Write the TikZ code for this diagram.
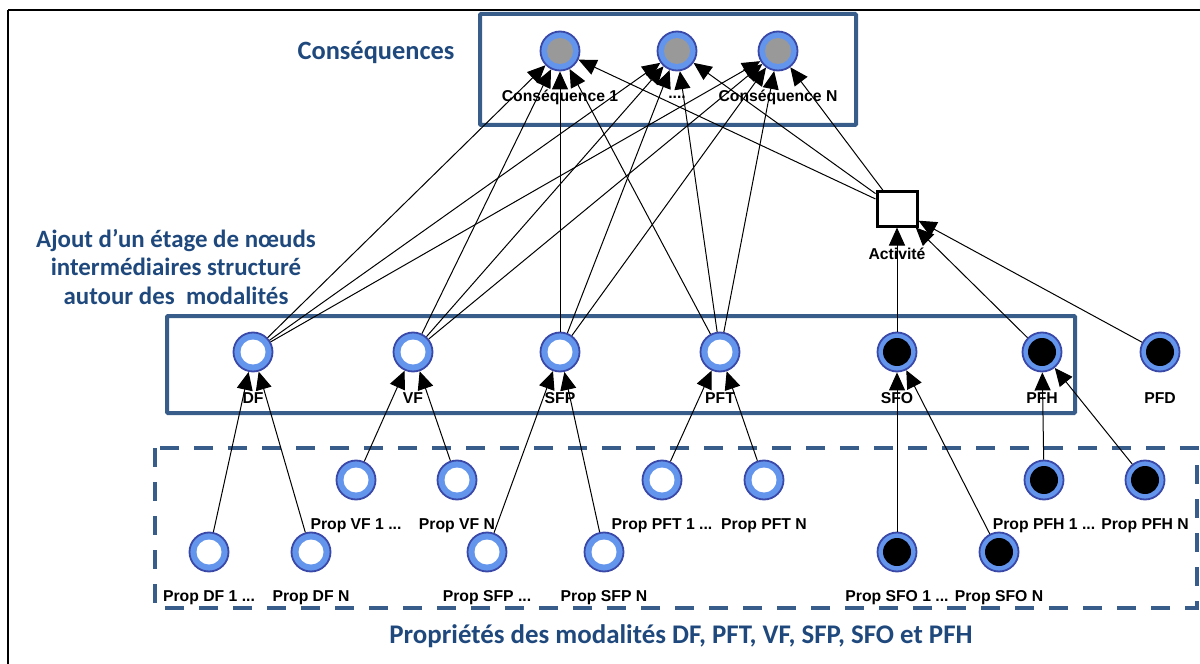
\documentclass[tikz,border=0pt]{standalone}
\usepackage{fontspec}
\setmainfont{Liberation Sans}
\newfontfamily\calfont{Carlito}
\usetikzlibrary{arrows.meta}
\definecolor{boxblue}{RGB}{56,93,138}
\definecolor{titleblue}{RGB}{31,73,125}
\definecolor{ringblue}{RGB}{100,149,237}
\definecolor{ringedge}{RGB}{58,72,168}
\definecolor{conseq}{RGB}{153,153,153}
\begin{document}
\begin{tikzpicture}[x=1bp,y=-1bp,
  ring/.style={circle, minimum size=39bp, inner sep=0pt, draw=ringedge, line width=1.8bp, fill=ringblue},
  wnode/.style={ring, path picture={\fill[white] (path picture bounding box.center) circle[radius=12.5bp];}},
  bnode/.style={ring, path picture={\fill[black] (path picture bounding box.center) circle[radius=14bp];}},
  gnode/.style={ring, path picture={\fill[conseq] (path picture bounding box.center) circle[radius=13bp];}},
  lab/.style={font=\bfseries\fontsize{15.8}{16}\selectfont, inner sep=0pt, anchor=center, label distance=25.5bp},
  actbox/.style={rectangle, draw=black, line width=3bp, fill=white, minimum width=40bp, minimum height=34bp, inner sep=0pt},
  arr/.style={-{Triangle[length=18bp,width=16bp]}, line width=1bp},
  bluebox/.style={draw=boxblue, line width=4bp, rounded corners=1bp},
  title/.style={text=titleblue, font=\calfont\bfseries\fontsize{25}{28.5}\selectfont, align=center, inner sep=0pt}
]
\useasboundingbox (0,0) rectangle (1200,664);
% outer frame
\draw[line width=2bp] (8,10) -- (1215,10);
\draw[line width=2bp] (8,10) -- (8,680);
% boxes
\draw[bluebox] (480,14) rectangle (856,125);
\draw[bluebox] (167,316) rectangle (1075,413);
\draw[draw=boxblue, line width=4bp, dash pattern=on 19bp off 15bp] (155,448) rectangle (1197,608);
% titles
\node[title, font=\calfont\bfseries\fontsize{26.5}{28.5}\selectfont] (tconseq) at (376,52) {Conséquences};
\node[title] (tajout) at (176,267) {Ajout d’un étage de nœuds\\intermédiaires structuré\\autour des\ \ modalités};
\node[title, font=\calfont\bfseries\fontsize{27}{28.5}\selectfont] (tprop) at (681,636) {Propriétés des modalités DF, PFT, VF, SFP, SFO et PFH};
% consequence nodes
\node[gnode, label={[lab]below:Conséquence 1}] (C1) at (560,51) {};
\node[gnode, label={[lab]below:....}] (C2) at (677,51) {};
\node[gnode, label={[lab]below:Conséquence N}] (CN) at (778,51) {};
% activity
\node[actbox, label={[lab,label distance=26bp]below:Activité}] (Act) at (897,209) {};
% intermediate nodes
\node[wnode, label={[lab]below:DF}] (DF) at (253,352) {};
\node[wnode, label={[lab]below:VF}] (VF) at (413,352) {};
\node[wnode, label={[lab]below:SFP}] (SFP) at (560,352) {};
\node[wnode, label={[lab]below:PFT}] (PFT) at (720,352) {};
\node[bnode, label={[lab]below:SFO}] (SFO) at (897,352) {};
\node[bnode, label={[lab]below:PFH}] (PFH) at (1042,352) {};
\node[bnode, label={[lab]below:PFD}] (PFD) at (1160,352) {};
% property nodes
\node[wnode, label={[lab]below:Prop DF 1 ...}] (PDF1) at (209,552) {};
\node[wnode, label={[lab]below:Prop DF N}] (PDFN) at (311,552) {};
\node[wnode, label={[lab]below:Prop VF 1 ...}] (PVF1) at (356,480) {};
\node[wnode, label={[lab]below:Prop VF N}] (PVFN) at (457,480) {};
\node[wnode, label={[lab]below:Prop SFP ...}] (PSFP1) at (487,552) {};
\node[wnode, label={[lab]below:Prop SFP N}] (PSFPN) at (604,552) {};
\node[wnode, label={[lab]below:Prop PFT 1 ...}] (PPFT1) at (662,480) {};
\node[wnode, label={[lab]below:Prop PFT N}] (PPFTN) at (764,480) {};
\node[bnode, label={[lab]below:Prop SFO 1 ...}] (PSFO1) at (897,552) {};
\node[bnode, label={[lab]below:Prop SFO N}] (PSFON) at (999,552) {};
\node[bnode, label={[lab]below:Prop PFH 1 ...}] (PPFH1) at (1044,480) {};
\node[bnode, label={[lab]below:Prop PFH N}] (PPFHN) at (1145,480) {};
% edges to consequences
\foreach \s in {DF,VF,SFP,PFT,Act}{
  \foreach \t in {C1,C2,CN}{
    \draw[arr] (\s) -- (\t);
  }
}
% edges to activity
\foreach \s in {SFO,PFH,PFD}{
  \draw[arr] (\s) -- (Act);
}
% property edges
\draw[arr] (PDF1) -- (DF);
\draw[arr] (PDFN) -- (DF);
\draw[arr] (PVF1) -- (VF);
\draw[arr] (PVFN) -- (VF);
\draw[arr] (PSFP1) -- (SFP);
\draw[arr] (PSFPN) -- (SFP);
\draw[arr] (PPFT1) -- (PFT);
\draw[arr] (PPFTN) -- (PFT);
\draw[arr] (PSFO1) -- (SFO);
\draw[arr] (PSFON) -- (SFO);
\draw[arr] (PPFH1) -- (PFH);
\draw[arr] (PPFHN) -- (PFH);
\end{tikzpicture}
\end{document}
